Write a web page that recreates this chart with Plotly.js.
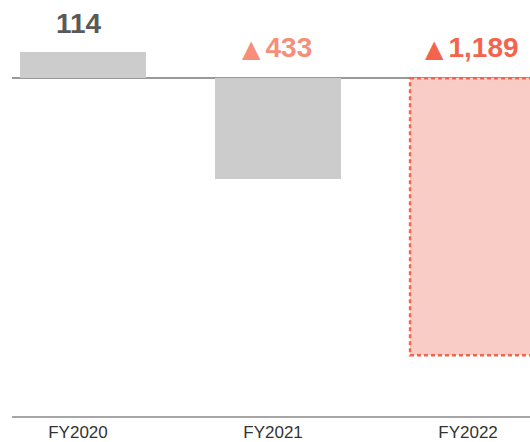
<!DOCTYPE html>
<html>
<head>
<meta charset="utf-8">
<script src="https://cdn.plot.ly/plotly-3.0.1.min.js"></script>
<style>
  html, body { margin: 0; padding: 0; background: #ffffff; }
  #chart { width: 530px; height: 442px; }
</style>
</head>
<body>
<div id="chart"></div>
<script>
// Fiscal years and results (negative = loss, shown with ▲)
const fiscalYears = ["FY2020", "FY2021", "FY2022"];
const results = [114, -433, -1189];
const barColors = ["#cccccc", "#cccccc", "#f9cdc6"];
const labelColors = ["#595959", "#f78e7a", "#f4644c"];

const BAR_WIDTH = 0.646;

function formatValue(v) {
  const s = Math.abs(v).toLocaleString("en-US");
  if (v >= 0) return "<b>" + s + "</b>";
  return "<span style=\"font-family:'DejaVu Sans';font-size:24px\">\u25B2</span>" +
         "<span style=\"font-size:18px\"> </span><b>" + s + "</b>";
}

const trace = {
  type: "bar",
  x: fiscalYears,
  y: results,
  width: BAR_WIDTH,
  marker: {
    color: barColors,
    cornerradius: 2,
    line: { width: 0 }
  },
  hoverinfo: "skip"
};

// value labels above each bar (or above the zero line for losses)
const annotations = results.map((v, i) => ({
  x: fiscalYears[i],
  y: Math.max(v, 0),
  xref: "x",
  yref: "y",
  text: formatValue(v),
  showarrow: false,
  yanchor: "middle",
  xanchor: "center",
  yshift: v >= 0 ? 28 : 31,
  xshift: v >= 0 ? -4 : -1,
  font: { family: "Liberation Sans, Arial, sans-serif", size: 28, color: labelColors[i] }
}));

// dotted outline for the latest year
const last = results.length - 1;
const shapes = [{
  type: "rect",
  xref: "x",
  yref: "y",
  x0: last - BAR_WIDTH / 2,
  x1: last + BAR_WIDTH / 2,
  y0: 0,
  y1: results[last],
  line: { color: "#f4644c", width: 2.5, dash: "4px,3px" },
  fillcolor: "rgba(0,0,0,0)",
  layer: "above"
}];

const layout = {
  width: 530,
  height: 442,
  margin: { l: 12, r: 0, t: 0, b: 26 },
  paper_bgcolor: "#ffffff",
  plot_bgcolor: "#ffffff",
  showlegend: false,
  bargap: 0,
  xaxis: {
    type: "category",
    range: [-0.364, 2.292],
    showline: true,
    linecolor: "#a6a6a6",
    linewidth: 2,
    ticks: "",
    ticklabelshift: -5,
    showgrid: false,
    tickfont: { family: "Liberation Sans, Arial, sans-serif", size: 17, color: "#333333" },
    fixedrange: true
  },
  yaxis: {
    range: [-1450, 336],
    showgrid: false,
    showticklabels: false,
    ticks: "",
    zeroline: true,
    zerolinecolor: "#999999",
    zerolinewidth: 2,
    fixedrange: true
  },
  annotations: annotations,
  shapes: shapes
};

Plotly.newPlot("chart", [trace], layout, { displayModeBar: false, staticPlot: true });
</script>
</body>
</html>
